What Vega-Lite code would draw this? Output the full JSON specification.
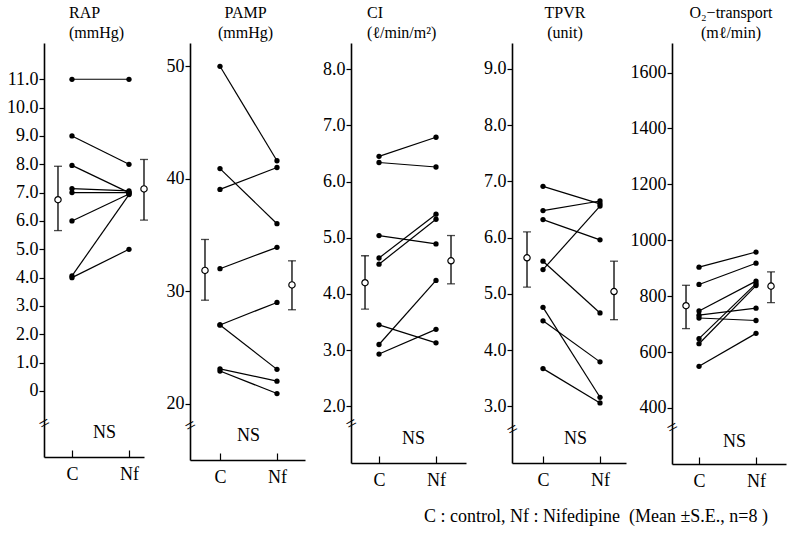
{
  "$schema": "https://vega.github.io/schema/vega-lite/v6.json",
  "background": "white",
  "padding": {"left": 6, "top": 5, "right": 5, "bottom": 5},
  "datasets": {
    "subjects": [
      {"var": "RAP", "id": 1, "cond": "C", "value": 11.0}, {"var": "RAP", "id": 1, "cond": "Nf", "value": 11.0},
      {"var": "RAP", "id": 2, "cond": "C", "value": 9.0}, {"var": "RAP", "id": 2, "cond": "Nf", "value": 8.0},
      {"var": "RAP", "id": 3, "cond": "C", "value": 7.96}, {"var": "RAP", "id": 3, "cond": "Nf", "value": 7.0},
      {"var": "RAP", "id": 4, "cond": "C", "value": 7.14}, {"var": "RAP", "id": 4, "cond": "Nf", "value": 7.06},
      {"var": "RAP", "id": 5, "cond": "C", "value": 7.0}, {"var": "RAP", "id": 5, "cond": "Nf", "value": 7.0},
      {"var": "RAP", "id": 6, "cond": "C", "value": 6.0}, {"var": "RAP", "id": 6, "cond": "Nf", "value": 6.95},
      {"var": "RAP", "id": 7, "cond": "C", "value": 4.06}, {"var": "RAP", "id": 7, "cond": "Nf", "value": 6.93},
      {"var": "RAP", "id": 8, "cond": "C", "value": 4.0}, {"var": "RAP", "id": 8, "cond": "Nf", "value": 5.0},
      {"var": "PAMP", "id": 1, "cond": "C", "value": 50.0}, {"var": "PAMP", "id": 1, "cond": "Nf", "value": 41.6},
      {"var": "PAMP", "id": 2, "cond": "C", "value": 40.9}, {"var": "PAMP", "id": 2, "cond": "Nf", "value": 36.0},
      {"var": "PAMP", "id": 3, "cond": "C", "value": 39.05}, {"var": "PAMP", "id": 3, "cond": "Nf", "value": 41.0},
      {"var": "PAMP", "id": 4, "cond": "C", "value": 32.0}, {"var": "PAMP", "id": 4, "cond": "Nf", "value": 33.9},
      {"var": "PAMP", "id": 5, "cond": "C", "value": 27.0}, {"var": "PAMP", "id": 5, "cond": "Nf", "value": 29.0},
      {"var": "PAMP", "id": 6, "cond": "C", "value": 27.0}, {"var": "PAMP", "id": 6, "cond": "Nf", "value": 23.05},
      {"var": "PAMP", "id": 7, "cond": "C", "value": 23.1}, {"var": "PAMP", "id": 7, "cond": "Nf", "value": 22.0},
      {"var": "PAMP", "id": 8, "cond": "C", "value": 22.9}, {"var": "PAMP", "id": 8, "cond": "Nf", "value": 20.9},
      {"var": "CI", "id": 1, "cond": "C", "value": 6.45}, {"var": "CI", "id": 1, "cond": "Nf", "value": 6.79},
      {"var": "CI", "id": 2, "cond": "C", "value": 6.34}, {"var": "CI", "id": 2, "cond": "Nf", "value": 6.26},
      {"var": "CI", "id": 3, "cond": "C", "value": 5.04}, {"var": "CI", "id": 3, "cond": "Nf", "value": 4.89},
      {"var": "CI", "id": 4, "cond": "C", "value": 4.64}, {"var": "CI", "id": 4, "cond": "Nf", "value": 5.42},
      {"var": "CI", "id": 5, "cond": "C", "value": 4.53}, {"var": "CI", "id": 5, "cond": "Nf", "value": 5.33},
      {"var": "CI", "id": 6, "cond": "C", "value": 3.45}, {"var": "CI", "id": 6, "cond": "Nf", "value": 3.13},
      {"var": "CI", "id": 7, "cond": "C", "value": 3.10}, {"var": "CI", "id": 7, "cond": "Nf", "value": 4.24},
      {"var": "CI", "id": 8, "cond": "C", "value": 2.93}, {"var": "CI", "id": 8, "cond": "Nf", "value": 3.37},
      {"var": "TPVR", "id": 1, "cond": "C", "value": 6.91}, {"var": "TPVR", "id": 1, "cond": "Nf", "value": 6.60},
      {"var": "TPVR", "id": 2, "cond": "C", "value": 6.48}, {"var": "TPVR", "id": 2, "cond": "Nf", "value": 6.65},
      {"var": "TPVR", "id": 3, "cond": "C", "value": 6.32}, {"var": "TPVR", "id": 3, "cond": "Nf", "value": 5.96},
      {"var": "TPVR", "id": 4, "cond": "C", "value": 5.43}, {"var": "TPVR", "id": 4, "cond": "Nf", "value": 6.56},
      {"var": "TPVR", "id": 5, "cond": "C", "value": 5.58}, {"var": "TPVR", "id": 5, "cond": "Nf", "value": 4.66},
      {"var": "TPVR", "id": 6, "cond": "C", "value": 4.76}, {"var": "TPVR", "id": 6, "cond": "Nf", "value": 3.16},
      {"var": "TPVR", "id": 7, "cond": "C", "value": 4.52}, {"var": "TPVR", "id": 7, "cond": "Nf", "value": 3.79},
      {"var": "TPVR", "id": 8, "cond": "C", "value": 3.67}, {"var": "TPVR", "id": 8, "cond": "Nf", "value": 3.06},
      {"var": "O2", "id": 1, "cond": "C", "value": 904}, {"var": "O2", "id": 1, "cond": "Nf", "value": 958},
      {"var": "O2", "id": 2, "cond": "C", "value": 842}, {"var": "O2", "id": 2, "cond": "Nf", "value": 918},
      {"var": "O2", "id": 3, "cond": "C", "value": 747}, {"var": "O2", "id": 3, "cond": "Nf", "value": 854},
      {"var": "O2", "id": 4, "cond": "C", "value": 732}, {"var": "O2", "id": 4, "cond": "Nf", "value": 757},
      {"var": "O2", "id": 5, "cond": "C", "value": 722}, {"var": "O2", "id": 5, "cond": "Nf", "value": 713},
      {"var": "O2", "id": 6, "cond": "C", "value": 648}, {"var": "O2", "id": 6, "cond": "Nf", "value": 845},
      {"var": "O2", "id": 7, "cond": "C", "value": 630}, {"var": "O2", "id": 7, "cond": "Nf", "value": 838},
      {"var": "O2", "id": 8, "cond": "C", "value": 549}, {"var": "O2", "id": 8, "cond": "Nf", "value": 667}
    ],
    "means": [
      {"var": "RAP", "cond": "C", "mean": 6.75, "lo": 5.66, "hi": 7.93},
      {"var": "RAP", "cond": "Nf", "mean": 7.13, "lo": 6.03, "hi": 8.17},
      {"var": "PAMP", "cond": "C", "mean": 31.85, "lo": 29.2, "hi": 34.6},
      {"var": "PAMP", "cond": "Nf", "mean": 30.56, "lo": 28.35, "hi": 32.7},
      {"var": "CI", "cond": "C", "mean": 4.2, "lo": 3.73, "hi": 4.68},
      {"var": "CI", "cond": "Nf", "mean": 4.59, "lo": 4.18, "hi": 5.04},
      {"var": "TPVR", "cond": "C", "mean": 5.64, "lo": 5.12, "hi": 6.1},
      {"var": "TPVR", "cond": "Nf", "mean": 5.04, "lo": 4.54, "hi": 5.58},
      {"var": "O2", "cond": "C", "mean": 766, "lo": 684, "hi": 839},
      {"var": "O2", "cond": "Nf", "mean": 836, "lo": 777, "hi": 887}
    ]
  },
  "spacing": 46,
  "bounds": "flush",
  "title": {"text": "C : control, Nf : Nifedipine\u00a0\u00a0(Mean ±S.E., n=8\u00a0)", "orient": "bottom", "anchor": "end", "offset": 18, "fontSize": 18, "dx": -18},
  "hconcat": [
    {
      "width": 100, "height": 414,
      "title": {"text": ["RAP", "(mmHg)"], "anchor": "start", "frame": "group", "dx": 25},
      "resolve": {"axis": {"y": "independent"}},
      "layer": [
        {"data": {"name": "subjects"}, "transform": [{"filter": "datum.var === 'RAP'"}],
          "mark": {"type": "line", "color": "black", "strokeWidth": 1.2},
          "encoding": {
            "x": {"field": "cond", "type": "ordinal", "scale": {"type": "point", "domain": ["C", "Nf"], "padding": 0.377, "align": 0.651}, "axis": {"title": "NS", "titleX": 60, "titleY": -25}},
            "y": {"field": "value", "type": "quantitative", "scale": {"domain": [-2.33, 12.28], "nice": false, "zero": false}, "axis": {"orient": "left", "title": null, "values": [0, 1, 2, 3, 4, 5, 6, 7, 8, 9, 10, 11], "labelExpr": "datum.value == 0 ? '0' : format(datum.value, '.1f')"}},
            "detail": {"field": "id", "type": "nominal"}
          }},
        {"data": {"name": "subjects"}, "transform": [{"filter": "datum.var === 'RAP'"}],
          "mark": {"type": "circle", "color": "black", "size": 28, "opacity": 1},
          "encoding": {"x": {"field": "cond", "type": "ordinal"}, "y": {"field": "value", "type": "quantitative", "axis": null}}},
        {"data": {"name": "means"}, "transform": [{"filter": "datum.var === 'RAP' && datum.cond === 'C'"}],
          "mark": {"type": "rule", "color": "black", "strokeWidth": 1.3, "xOffset": -14},
          "encoding": {"x": {"field": "cond", "type": "ordinal"}, "y": {"field": "lo", "type": "quantitative", "axis": null}, "y2": {"field": "hi"}}},
        {"data": {"name": "means"}, "transform": [{"filter": "datum.var === 'RAP' && datum.cond === 'C'"}, {"fold": ["lo", "hi"], "as": ["end", "v"]}],
          "mark": {"type": "tick", "color": "black", "size": 8, "thickness": 1.3, "orient": "horizontal", "xOffset": -14},
          "encoding": {"x": {"field": "cond", "type": "ordinal"}, "y": {"field": "v", "type": "quantitative", "axis": null}}},
        {"data": {"name": "means"}, "transform": [{"filter": "datum.var === 'RAP' && datum.cond === 'C'"}],
          "mark": {"type": "point", "shape": "circle", "filled": true, "fill": "white", "stroke": "black", "strokeWidth": 1.2, "size": 40, "opacity": 1, "xOffset": -14},
          "encoding": {"x": {"field": "cond", "type": "ordinal"}, "y": {"field": "mean", "type": "quantitative", "axis": null}}},
        {"data": {"name": "means"}, "transform": [{"filter": "datum.var === 'RAP' && datum.cond === 'Nf'"}],
          "mark": {"type": "rule", "color": "black", "strokeWidth": 1.3, "xOffset": 15},
          "encoding": {"x": {"field": "cond", "type": "ordinal"}, "y": {"field": "lo", "type": "quantitative", "axis": null}, "y2": {"field": "hi"}}},
        {"data": {"name": "means"}, "transform": [{"filter": "datum.var === 'RAP' && datum.cond === 'Nf'"}, {"fold": ["lo", "hi"], "as": ["end", "v"]}],
          "mark": {"type": "tick", "color": "black", "size": 8, "thickness": 1.3, "orient": "horizontal", "xOffset": 15},
          "encoding": {"x": {"field": "cond", "type": "ordinal"}, "y": {"field": "v", "type": "quantitative", "axis": null}}},
        {"data": {"name": "means"}, "transform": [{"filter": "datum.var === 'RAP' && datum.cond === 'Nf'"}],
          "mark": {"type": "point", "shape": "circle", "filled": true, "fill": "white", "stroke": "black", "strokeWidth": 1.2, "size": 40, "opacity": 1, "xOffset": 15},
          "encoding": {"x": {"field": "cond", "type": "ordinal"}, "y": {"field": "mean", "type": "quantitative", "axis": null}}},
        {"data": {"values": [{}]},
          "mark": {"type": "point", "opacity": 0},
          "encoding": {"y": {"datum": -1.13, "type": "quantitative", "axis": {"orient": "left", "title": null, "values": [-1.13], "labelExpr": "'='", "domain": false, "ticks": false, "tickSize": 0, "labelAngle": -30, "labelAlign": "center", "labelBaseline": "middle", "labelPadding": 0, "labelFontSize": 19}}}}
      ]
    },
    {
      "width": 115, "height": 417,
      "title": {"text": ["PAMP", "(mmHg)"], "anchor": "middle", "frame": "group", "dx": -2},
      "resolve": {"axis": {"y": "independent"}},
      "layer": [
        {"data": {"name": "subjects"}, "transform": [{"filter": "datum.var === 'PAMP'"}],
          "mark": {"type": "line", "color": "black", "strokeWidth": 1.2},
          "encoding": {
            "x": {"field": "cond", "type": "ordinal", "scale": {"type": "point", "domain": ["C", "Nf"], "padding": 0.509, "align": 0.517}, "axis": {"title": "NS", "titleX": 58, "titleY": -25}},
            "y": {"field": "value", "type": "quantitative", "scale": {"domain": [14.99, 52.07], "nice": false, "zero": false}, "axis": {"orient": "left", "title": null, "values": [20, 30, 40, 50], "format": "d"}},
            "detail": {"field": "id", "type": "nominal"}
          }},
        {"data": {"name": "subjects"}, "transform": [{"filter": "datum.var === 'PAMP'"}],
          "mark": {"type": "circle", "color": "black", "size": 28, "opacity": 1},
          "encoding": {"x": {"field": "cond", "type": "ordinal"}, "y": {"field": "value", "type": "quantitative", "axis": null}}},
        {"data": {"name": "means"}, "transform": [{"filter": "datum.var === 'PAMP' && datum.cond === 'C'"}],
          "mark": {"type": "rule", "color": "black", "strokeWidth": 1.3, "xOffset": -15},
          "encoding": {"x": {"field": "cond", "type": "ordinal"}, "y": {"field": "lo", "type": "quantitative", "axis": null}, "y2": {"field": "hi"}}},
        {"data": {"name": "means"}, "transform": [{"filter": "datum.var === 'PAMP' && datum.cond === 'C'"}, {"fold": ["lo", "hi"], "as": ["end", "v"]}],
          "mark": {"type": "tick", "color": "black", "size": 8, "thickness": 1.3, "orient": "horizontal", "xOffset": -15},
          "encoding": {"x": {"field": "cond", "type": "ordinal"}, "y": {"field": "v", "type": "quantitative", "axis": null}}},
        {"data": {"name": "means"}, "transform": [{"filter": "datum.var === 'PAMP' && datum.cond === 'C'"}],
          "mark": {"type": "point", "shape": "circle", "filled": true, "fill": "white", "stroke": "black", "strokeWidth": 1.2, "size": 40, "opacity": 1, "xOffset": -15},
          "encoding": {"x": {"field": "cond", "type": "ordinal"}, "y": {"field": "mean", "type": "quantitative", "axis": null}}},
        {"data": {"name": "means"}, "transform": [{"filter": "datum.var === 'PAMP' && datum.cond === 'Nf'"}],
          "mark": {"type": "rule", "color": "black", "strokeWidth": 1.3, "xOffset": 15},
          "encoding": {"x": {"field": "cond", "type": "ordinal"}, "y": {"field": "lo", "type": "quantitative", "axis": null}, "y2": {"field": "hi"}}},
        {"data": {"name": "means"}, "transform": [{"filter": "datum.var === 'PAMP' && datum.cond === 'Nf'"}, {"fold": ["lo", "hi"], "as": ["end", "v"]}],
          "mark": {"type": "tick", "color": "black", "size": 8, "thickness": 1.3, "orient": "horizontal", "xOffset": 15},
          "encoding": {"x": {"field": "cond", "type": "ordinal"}, "y": {"field": "v", "type": "quantitative", "axis": null}}},
        {"data": {"name": "means"}, "transform": [{"filter": "datum.var === 'PAMP' && datum.cond === 'Nf'"}],
          "mark": {"type": "point", "shape": "circle", "filled": true, "fill": "white", "stroke": "black", "strokeWidth": 1.2, "size": 40, "opacity": 1, "xOffset": 15},
          "encoding": {"x": {"field": "cond", "type": "ordinal"}, "y": {"field": "mean", "type": "quantitative", "axis": null}}},
        {"data": {"values": [{}]},
          "mark": {"type": "point", "opacity": 0},
          "encoding": {"y": {"datum": 18.1, "type": "quantitative", "axis": {"orient": "left", "title": null, "values": [18.1], "labelExpr": "'='", "domain": false, "ticks": false, "tickSize": 0, "labelAngle": -30, "labelAlign": "center", "labelBaseline": "middle", "labelPadding": 0, "labelFontSize": 19}}}}
      ]
    },
    {
      "width": 115, "height": 420,
      "title": {"text": ["CI", "(ℓ/min/m²)"], "anchor": "start", "frame": "group", "dx": 16},
      "resolve": {"axis": {"y": "independent"}},
      "layer": [
        {"data": {"name": "subjects"}, "transform": [{"filter": "datum.var === 'CI'"}],
          "mark": {"type": "line", "color": "black", "strokeWidth": 1.2},
          "encoding": {
            "x": {"field": "cond", "type": "ordinal", "scale": {"type": "point", "domain": ["C", "Nf"], "padding": 0.509, "align": 0.483}, "axis": {"title": "NS", "titleX": 62, "titleY": -25}},
            "y": {"field": "value", "type": "quantitative", "scale": {"domain": [0.99, 8.468], "nice": false, "zero": false}, "axis": {"orient": "left", "title": null, "values": [2, 3, 4, 5, 6, 7, 8], "format": ".1f"}},
            "detail": {"field": "id", "type": "nominal"}
          }},
        {"data": {"name": "subjects"}, "transform": [{"filter": "datum.var === 'CI'"}],
          "mark": {"type": "circle", "color": "black", "size": 28, "opacity": 1},
          "encoding": {"x": {"field": "cond", "type": "ordinal"}, "y": {"field": "value", "type": "quantitative", "axis": null}}},
        {"data": {"name": "means"}, "transform": [{"filter": "datum.var === 'CI' && datum.cond === 'C'"}],
          "mark": {"type": "rule", "color": "black", "strokeWidth": 1.3, "xOffset": -14},
          "encoding": {"x": {"field": "cond", "type": "ordinal"}, "y": {"field": "lo", "type": "quantitative", "axis": null}, "y2": {"field": "hi"}}},
        {"data": {"name": "means"}, "transform": [{"filter": "datum.var === 'CI' && datum.cond === 'C'"}, {"fold": ["lo", "hi"], "as": ["end", "v"]}],
          "mark": {"type": "tick", "color": "black", "size": 8, "thickness": 1.3, "orient": "horizontal", "xOffset": -14},
          "encoding": {"x": {"field": "cond", "type": "ordinal"}, "y": {"field": "v", "type": "quantitative", "axis": null}}},
        {"data": {"name": "means"}, "transform": [{"filter": "datum.var === 'CI' && datum.cond === 'C'"}],
          "mark": {"type": "point", "shape": "circle", "filled": true, "fill": "white", "stroke": "black", "strokeWidth": 1.2, "size": 40, "opacity": 1, "xOffset": -14},
          "encoding": {"x": {"field": "cond", "type": "ordinal"}, "y": {"field": "mean", "type": "quantitative", "axis": null}}},
        {"data": {"name": "means"}, "transform": [{"filter": "datum.var === 'CI' && datum.cond === 'Nf'"}],
          "mark": {"type": "rule", "color": "black", "strokeWidth": 1.3, "xOffset": 15},
          "encoding": {"x": {"field": "cond", "type": "ordinal"}, "y": {"field": "lo", "type": "quantitative", "axis": null}, "y2": {"field": "hi"}}},
        {"data": {"name": "means"}, "transform": [{"filter": "datum.var === 'CI' && datum.cond === 'Nf'"}, {"fold": ["lo", "hi"], "as": ["end", "v"]}],
          "mark": {"type": "tick", "color": "black", "size": 8, "thickness": 1.3, "orient": "horizontal", "xOffset": 15},
          "encoding": {"x": {"field": "cond", "type": "ordinal"}, "y": {"field": "v", "type": "quantitative", "axis": null}}},
        {"data": {"name": "means"}, "transform": [{"filter": "datum.var === 'CI' && datum.cond === 'Nf'"}],
          "mark": {"type": "point", "shape": "circle", "filled": true, "fill": "white", "stroke": "black", "strokeWidth": 1.2, "size": 40, "opacity": 1, "xOffset": 15},
          "encoding": {"x": {"field": "cond", "type": "ordinal"}, "y": {"field": "mean", "type": "quantitative", "axis": null}}},
        {"data": {"values": [{}]},
          "mark": {"type": "point", "opacity": 0},
          "encoding": {"y": {"datum": 1.7, "type": "quantitative", "axis": {"orient": "left", "title": null, "values": [1.7], "labelExpr": "'='", "domain": false, "ticks": false, "tickSize": 0, "labelAngle": -30, "labelAlign": "center", "labelBaseline": "middle", "labelPadding": 0, "labelFontSize": 19}}}}
      ]
    },
    {
      "width": 114, "height": 420,
      "title": {"text": ["TPVR", "(unit)"], "anchor": "middle", "frame": "group", "dx": -4},
      "resolve": {"axis": {"y": "independent"}},
      "layer": [
        {"data": {"name": "subjects"}, "transform": [{"filter": "datum.var === 'TPVR'"}],
          "mark": {"type": "line", "color": "black", "strokeWidth": 1.2},
          "encoding": {
            "x": {"field": "cond", "type": "ordinal", "scale": {"type": "point", "domain": ["C", "Nf"], "padding": 0.5, "align": 0.544}, "axis": {"title": "NS", "titleX": 63, "titleY": -25}},
            "y": {"field": "value", "type": "quantitative", "scale": {"domain": [1.992, 9.459], "nice": false, "zero": false}, "axis": {"orient": "left", "title": null, "values": [3, 4, 5, 6, 7, 8, 9], "format": ".1f"}},
            "detail": {"field": "id", "type": "nominal"}
          }},
        {"data": {"name": "subjects"}, "transform": [{"filter": "datum.var === 'TPVR'"}],
          "mark": {"type": "circle", "color": "black", "size": 28, "opacity": 1},
          "encoding": {"x": {"field": "cond", "type": "ordinal"}, "y": {"field": "value", "type": "quantitative", "axis": null}}},
        {"data": {"name": "means"}, "transform": [{"filter": "datum.var === 'TPVR' && datum.cond === 'C'"}],
          "mark": {"type": "rule", "color": "black", "strokeWidth": 1.3, "xOffset": -16},
          "encoding": {"x": {"field": "cond", "type": "ordinal"}, "y": {"field": "lo", "type": "quantitative", "axis": null}, "y2": {"field": "hi"}}},
        {"data": {"name": "means"}, "transform": [{"filter": "datum.var === 'TPVR' && datum.cond === 'C'"}, {"fold": ["lo", "hi"], "as": ["end", "v"]}],
          "mark": {"type": "tick", "color": "black", "size": 8, "thickness": 1.3, "orient": "horizontal", "xOffset": -16},
          "encoding": {"x": {"field": "cond", "type": "ordinal"}, "y": {"field": "v", "type": "quantitative", "axis": null}}},
        {"data": {"name": "means"}, "transform": [{"filter": "datum.var === 'TPVR' && datum.cond === 'C'"}],
          "mark": {"type": "point", "shape": "circle", "filled": true, "fill": "white", "stroke": "black", "strokeWidth": 1.2, "size": 40, "opacity": 1, "xOffset": -16},
          "encoding": {"x": {"field": "cond", "type": "ordinal"}, "y": {"field": "mean", "type": "quantitative", "axis": null}}},
        {"data": {"name": "means"}, "transform": [{"filter": "datum.var === 'TPVR' && datum.cond === 'Nf'"}],
          "mark": {"type": "rule", "color": "black", "strokeWidth": 1.3, "xOffset": 14},
          "encoding": {"x": {"field": "cond", "type": "ordinal"}, "y": {"field": "lo", "type": "quantitative", "axis": null}, "y2": {"field": "hi"}}},
        {"data": {"name": "means"}, "transform": [{"filter": "datum.var === 'TPVR' && datum.cond === 'Nf'"}, {"fold": ["lo", "hi"], "as": ["end", "v"]}],
          "mark": {"type": "tick", "color": "black", "size": 8, "thickness": 1.3, "orient": "horizontal", "xOffset": 14},
          "encoding": {"x": {"field": "cond", "type": "ordinal"}, "y": {"field": "v", "type": "quantitative", "axis": null}}},
        {"data": {"name": "means"}, "transform": [{"filter": "datum.var === 'TPVR' && datum.cond === 'Nf'"}],
          "mark": {"type": "point", "shape": "circle", "filled": true, "fill": "white", "stroke": "black", "strokeWidth": 1.2, "size": 40, "opacity": 1, "xOffset": 14},
          "encoding": {"x": {"field": "cond", "type": "ordinal"}, "y": {"field": "mean", "type": "quantitative", "axis": null}}},
        {"data": {"values": [{}]},
          "mark": {"type": "point", "opacity": 0},
          "encoding": {"y": {"datum": 2.6, "type": "quantitative", "axis": {"orient": "left", "title": null, "values": [2.6], "labelExpr": "'='", "domain": false, "ticks": false, "tickSize": 0, "labelAngle": -30, "labelAlign": "center", "labelBaseline": "middle", "labelPadding": 0, "labelFontSize": 19}}}}
      ]
    },
    {
      "width": 114, "height": 421,
      "title": {"text": ["O₂−transport", "(mℓ/min)"], "anchor": "middle", "frame": "group", "dx": 2},
      "resolve": {"axis": {"y": "independent"}},
      "layer": [
        {"data": {"name": "subjects"}, "transform": [{"filter": "datum.var === 'O2'"}],
          "mark": {"type": "line", "color": "black", "strokeWidth": 1.2},
          "encoding": {
            "x": {"field": "cond", "type": "ordinal", "scale": {"type": "point", "domain": ["C", "Nf"], "padding": 0.5, "align": 0.474}, "axis": {"title": "NS", "titleX": 62, "titleY": -23}},
            "y": {"field": "value", "type": "quantitative", "scale": {"domain": [199.6, 1705.9], "nice": false, "zero": false}, "axis": {"orient": "left", "title": null, "values": [400, 600, 800, 1000, 1200, 1400, 1600], "format": "d"}},
            "detail": {"field": "id", "type": "nominal"}
          }},
        {"data": {"name": "subjects"}, "transform": [{"filter": "datum.var === 'O2'"}],
          "mark": {"type": "circle", "color": "black", "size": 28, "opacity": 1},
          "encoding": {"x": {"field": "cond", "type": "ordinal"}, "y": {"field": "value", "type": "quantitative", "axis": null}}},
        {"data": {"name": "means"}, "transform": [{"filter": "datum.var === 'O2' && datum.cond === 'C'"}],
          "mark": {"type": "rule", "color": "black", "strokeWidth": 1.3, "xOffset": -13},
          "encoding": {"x": {"field": "cond", "type": "ordinal"}, "y": {"field": "lo", "type": "quantitative", "axis": null}, "y2": {"field": "hi"}}},
        {"data": {"name": "means"}, "transform": [{"filter": "datum.var === 'O2' && datum.cond === 'C'"}, {"fold": ["lo", "hi"], "as": ["end", "v"]}],
          "mark": {"type": "tick", "color": "black", "size": 8, "thickness": 1.3, "orient": "horizontal", "xOffset": -13},
          "encoding": {"x": {"field": "cond", "type": "ordinal"}, "y": {"field": "v", "type": "quantitative", "axis": null}}},
        {"data": {"name": "means"}, "transform": [{"filter": "datum.var === 'O2' && datum.cond === 'C'"}],
          "mark": {"type": "point", "shape": "circle", "filled": true, "fill": "white", "stroke": "black", "strokeWidth": 1.2, "size": 40, "opacity": 1, "xOffset": -13},
          "encoding": {"x": {"field": "cond", "type": "ordinal"}, "y": {"field": "mean", "type": "quantitative", "axis": null}}},
        {"data": {"name": "means"}, "transform": [{"filter": "datum.var === 'O2' && datum.cond === 'Nf'"}],
          "mark": {"type": "rule", "color": "black", "strokeWidth": 1.3, "xOffset": 15},
          "encoding": {"x": {"field": "cond", "type": "ordinal"}, "y": {"field": "lo", "type": "quantitative", "axis": null}, "y2": {"field": "hi"}}},
        {"data": {"name": "means"}, "transform": [{"filter": "datum.var === 'O2' && datum.cond === 'Nf'"}, {"fold": ["lo", "hi"], "as": ["end", "v"]}],
          "mark": {"type": "tick", "color": "black", "size": 8, "thickness": 1.3, "orient": "horizontal", "xOffset": 15},
          "encoding": {"x": {"field": "cond", "type": "ordinal"}, "y": {"field": "v", "type": "quantitative", "axis": null}}},
        {"data": {"name": "means"}, "transform": [{"filter": "datum.var === 'O2' && datum.cond === 'Nf'"}],
          "mark": {"type": "point", "shape": "circle", "filled": true, "fill": "white", "stroke": "black", "strokeWidth": 1.2, "size": 40, "opacity": 1, "xOffset": 15},
          "encoding": {"x": {"field": "cond", "type": "ordinal"}, "y": {"field": "mean", "type": "quantitative", "axis": null}}},
        {"data": {"values": [{}]},
          "mark": {"type": "point", "opacity": 0},
          "encoding": {"y": {"datum": 332, "type": "quantitative", "axis": {"orient": "left", "title": null, "values": [332], "labelExpr": "'='", "domain": false, "ticks": false, "tickSize": 0, "labelAngle": -30, "labelAlign": "center", "labelBaseline": "middle", "labelPadding": 0, "labelFontSize": 19}}}}
      ]
    }
  ],
  "config": {
    "view": {"stroke": null},
    "font": "Liberation Serif",
    "title": {"font": "Liberation Serif", "fontSize": 16, "fontWeight": "normal", "color": "black", "lineHeight": 20, "offset": 2},
    "axis": {"grid": false, "domainColor": "black", "tickColor": "black", "labelColor": "black", "titleColor": "black", "labelFont": "Liberation Serif", "titleFont": "Liberation Serif", "titleFontWeight": "normal", "tickWidth": 1.2, "domainWidth": 1.6, "labelFontSize": 18},
    "axisX": {"tickSize": -7, "labelPadding": 15, "labelAngle": 0, "titleBaseline": "middle", "titleAlign": "center", "titleFontSize": 18},
    "axisY": {"tickSize": 5, "labelPadding": 1}
  }
}
